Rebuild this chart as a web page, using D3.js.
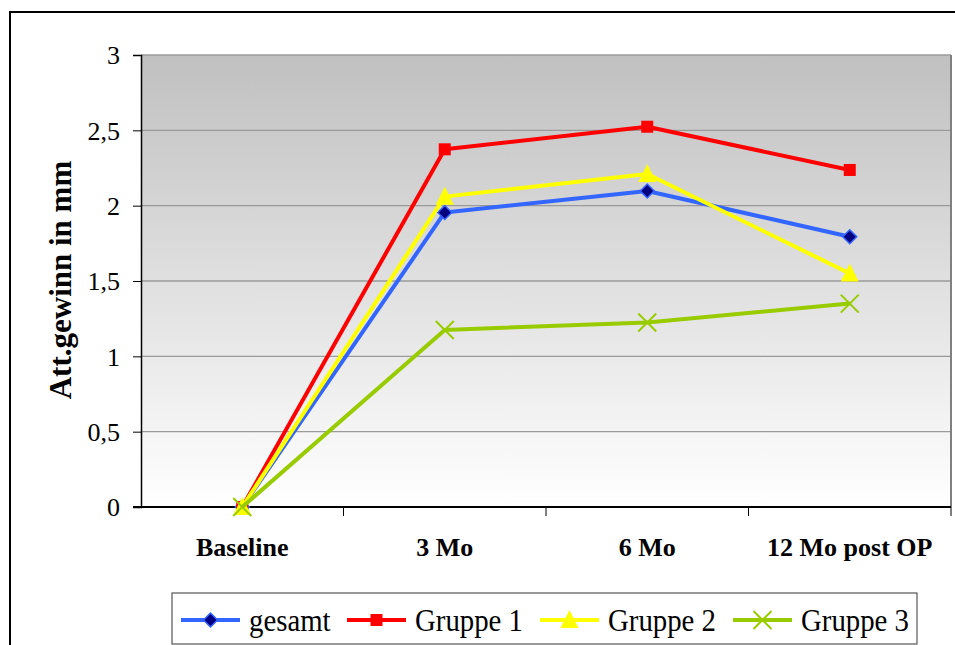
<!DOCTYPE html>
<html><head><meta charset="utf-8">
<script src="https://cdn.jsdelivr.net/npm/d3@7"></script>
<style>
body{margin:0;background:#fff;}
svg text{font-family:"Liberation Serif","Times New Roman",Tinos,"DejaVu Serif",serif !important;}
</style></head>
<body><svg id="c" width="955" height="645"></svg>
<script>
const categories = ["Baseline","3 Mo","6 Mo","12 Mo post OP"];
const gesamt  = [0, 1.955, 2.097, 1.794];
const gruppe1 = [0, 2.374, 2.524, 2.237];
const gruppe2 = [0, 2.06, 2.21, 1.55];
const gruppe3 = [0, 1.175, 1.225, 1.35];
const yTicks = [0, 0.5, 1, 1.5, 2, 2.5, 3];
const seriesNames = ["gesamt","Gruppe 1","Gruppe 2","Gruppe 3"];
const seriesColors = ["#3366ff","#ff0000","#ffff00","#99cc00"];
const seriesMarkers = ["diamond","square","triangle","x"];
const seriesValues = [gesamt, gruppe1, gruppe2, gruppe3];

const svg = d3.select("#c");
const L = 141, R = 951, T = 55, B = 507;

svg.append("rect").attr("x",10).attr("y",12).attr("width",960).attr("height",660)
  .attr("fill","none").attr("stroke","#000").attr("stroke-width",2);

const x = d3.scaleBand().domain(categories).range([L,R]).padding(0);
const y = d3.scaleLinear().domain([0,3]).range([B,T]);

const defs = svg.append("defs");
const g = defs.append("linearGradient").attr("id","bg").attr("x1",0).attr("y1",0).attr("x2",0).attr("y2",1);
g.append("stop").attr("offset","0%").attr("stop-color","#c0c0c0");
g.append("stop").attr("offset","100%").attr("stop-color","#ffffff");
svg.append("rect").attr("x",L).attr("y",T).attr("width",R-L).attr("height",B-T).attr("fill","url(#bg)");

svg.append("g").selectAll("line").data(yTicks.filter(d=>d>0)).join("line")
  .attr("x1",L).attr("x2",R).attr("y1",d=>y(d)).attr("y2",d=>y(d))
  .attr("stroke","#9a9a9a").attr("stroke-width",1.3);
svg.append("line").attr("x1",R).attr("x2",R).attr("y1",T).attr("y2",B).attr("stroke","#808080").attr("stroke-width",2);

const fmt = d => String(d).replace(".",",");
const yAxis = svg.append("g").attr("transform",`translate(${L},0)`)
  .call(d3.axisLeft(y).tickValues(yTicks).tickFormat(fmt).tickSize(8).tickPadding(13));
yAxis.attr("font-family",null);
yAxis.select(".domain").attr("stroke","#000").attr("stroke-width",1.5);
yAxis.selectAll(".tick line").attr("stroke","#000").attr("stroke-width",1);
yAxis.selectAll(".tick text").attr("font-size",26).attr("fill","#000").attr("dy","0.34em");

const xAxis = svg.append("g").attr("transform",`translate(0,${B})`)
  .call(d3.axisBottom(x).tickSize(0).tickPadding(31));
xAxis.attr("font-family",null);
xAxis.select(".domain").remove();
xAxis.selectAll(".tick text").attr("font-size",26).attr("font-weight","bold").attr("fill","#000");
svg.append("line").attr("x1",L-8).attr("x2",R).attr("y1",B).attr("y2",B).attr("stroke","#000").attr("stroke-width",2);
const bounds = categories.map(c=>x(c)).concat([x(categories[categories.length-1])+x.bandwidth()]);
svg.append("g").selectAll("line").data(bounds.slice(1)).join("line")
  .attr("x1",d=>d).attr("x2",d=>d).attr("y1",B).attr("y2",B+9).attr("stroke","#000").attr("stroke-width",1);

svg.append("text").attr("transform","translate(71,280) rotate(-90)").attr("text-anchor","middle")
  .attr("font-size",31).attr("font-weight","bold").text("Att.gewinn in mm");

function drawMarker(sel, type, color, cx, cy) {
  if (type==="diamond") {
    sel.append("path").attr("d",`M${cx},${cy-7}L${cx+7},${cy}L${cx},${cy+7}L${cx-7},${cy}Z`)
      .attr("fill","#000080").attr("stroke",color).attr("stroke-width",1.5);
  } else if (type==="square") {
    sel.append("rect").attr("x",cx-6).attr("y",cy-6).attr("width",12).attr("height",12).attr("fill",color);
  } else if (type==="triangle") {
    sel.append("path").attr("d",`M${cx},${cy-10}L${cx+9},${cy+8}L${cx-9},${cy+8}Z`).attr("fill",color);
  } else if (type==="x") {
    sel.append("path").attr("d",`M${cx-9},${cy-9}L${cx+9},${cy+9}M${cx+9},${cy-9}L${cx-9},${cy+9}`)
      .attr("stroke",color).attr("stroke-width",2);
  }
}

const cx = c => x(c) + x.bandwidth()/2;
const line = d3.line().x((d,i)=>cx(categories[i])).y(d=>y(d));
seriesValues.forEach((vals,si)=>{
  const gs = svg.append("g");
  gs.append("path").datum(vals).attr("d",line).attr("fill","none")
    .attr("stroke",seriesColors[si]).attr("stroke-width",4).attr("stroke-linejoin","round");
  vals.forEach((v,i)=>drawMarker(gs, seriesMarkers[si], seriesColors[si], cx(categories[i]), y(v)));
});

const lg = svg.append("g");
lg.append("rect").attr("x",172).attr("y",593).attr("width",745).attr("height",51)
  .attr("fill","#fff").attr("stroke","#555").attr("stroke-width",1.2);
const legX = [181, 347, 540, 733];
seriesNames.forEach((n,i)=>{
  const ly = 620;
  lg.append("line").attr("x1",legX[i]).attr("x2",legX[i]+59).attr("y1",ly).attr("y2",ly)
    .attr("stroke",seriesColors[i]).attr("stroke-width",4);
  drawMarker(lg, seriesMarkers[i], seriesColors[i], legX[i]+29.5, ly);
  const tx = legX[i]+68;
  lg.append("text").attr("x",0).attr("y",0).attr("font-size",32)
    .attr("transform",`translate(${tx},${ly+11}) scale(0.9,1)`)
    .text(n);
});
</script></body></html>
